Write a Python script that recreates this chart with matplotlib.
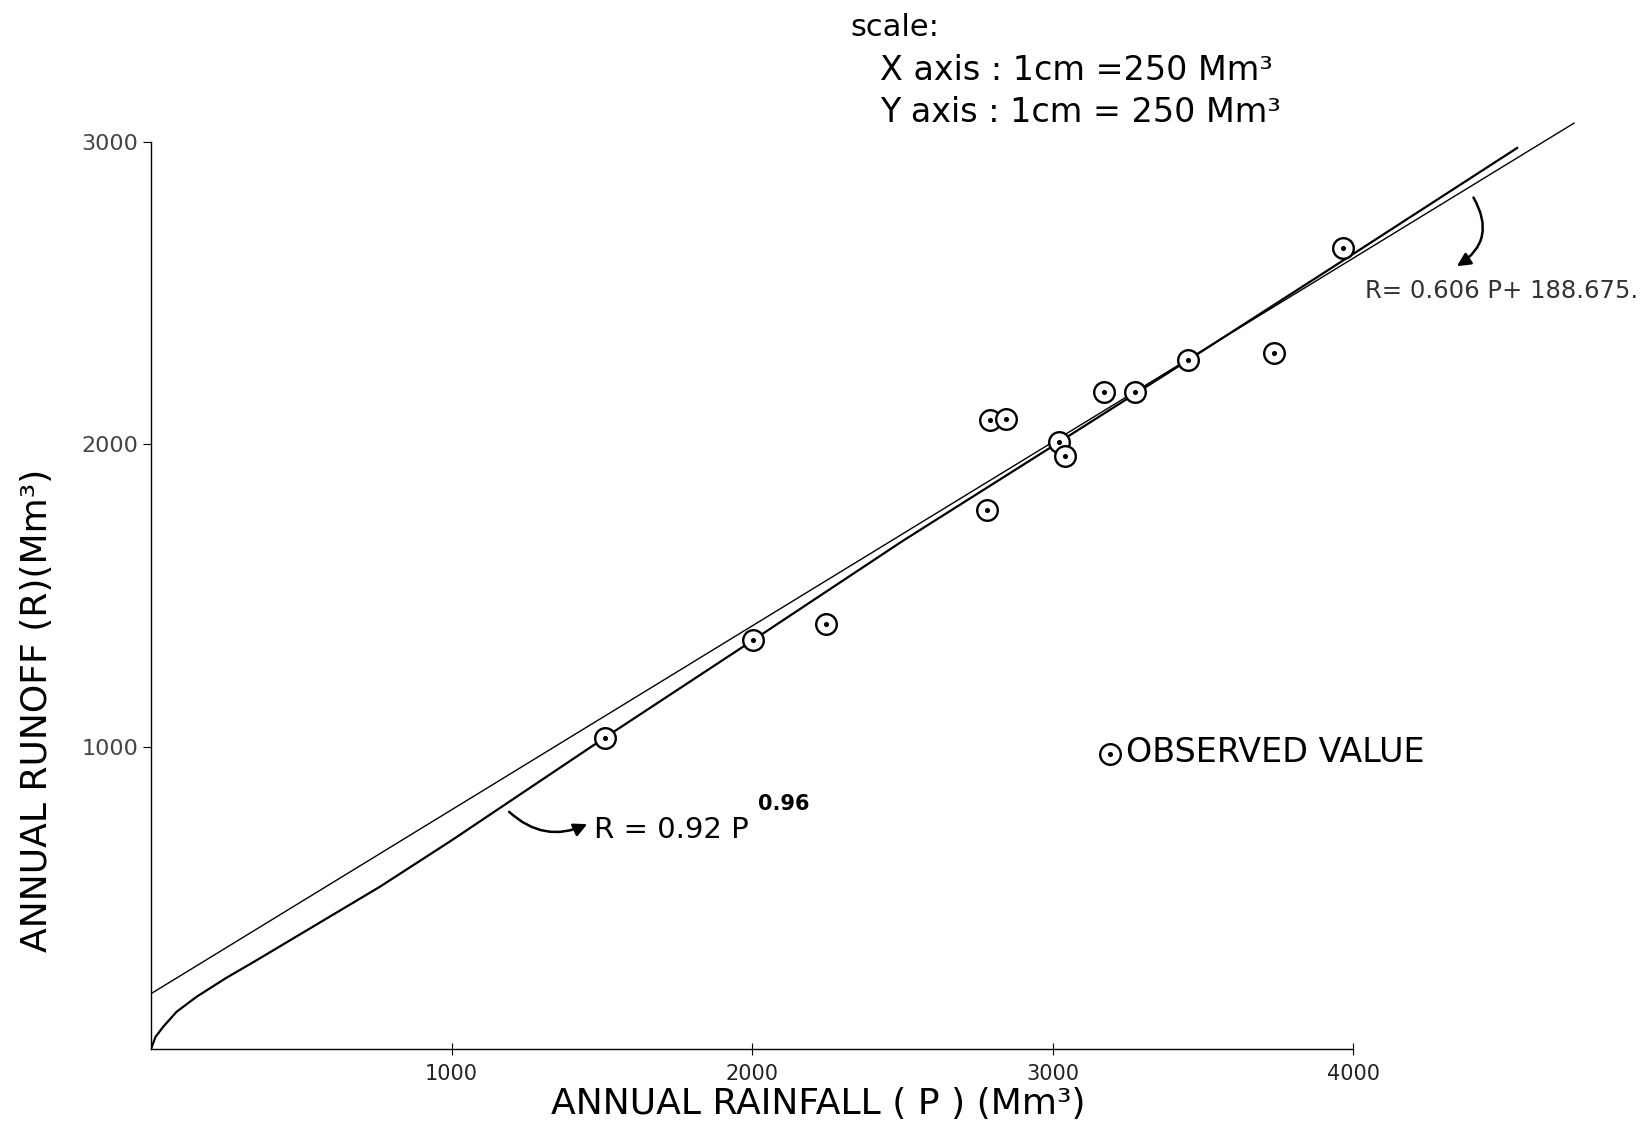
import numpy as np
import matplotlib.pyplot as plt

rain_obs = [1510, 2004, 2247, 2781, 2792, 2845, 3022, 3042, 3171, 3275, 3451, 3737, 3967]
runoff_obs = [1030, 1353, 1406, 1783, 2081, 2084, 2008, 1962, 2173, 2173, 2279, 2302, 2650]

# hand drawn power curve R = 0.92 P^0.96
rain_pow = [0, 15, 41, 85, 152, 250, 352, 762, 1000, 1510, 2004, 2500, 3022, 3451, 4000, 4546]
runoff_pow = [0, 40, 74, 123, 173, 235, 294, 537, 690, 1030, 1353, 1680, 2008, 2279, 2630, 2981]

# straight line R = 0.606 P + 188.675 (drawn end points)
rain_lin = [0, 4735]
runoff_lin = [183, 3063]

x_ticks = [1000, 2000, 3000, 4000]
y_ticks = [1000, 2000, 3000]

W, H = 1649, 1123
fig = plt.figure(figsize=(W / 100, H / 100), dpi=100)
ax = fig.add_axes([151 / W, 74 / H, 1472.5 / W, 937 / H])
ax.set_xlim(0, 4900)
ax.set_ylim(0, 3100)

ax.plot(rain_lin, runoff_lin, color='black', lw=1.0)
ax.plot(rain_pow, runoff_pow, color='black', lw=1.6)

circ = ax.scatter(rain_obs, runoff_obs, s=220, facecolors='white',
                  edgecolors='black', linewidths=1.7, zorder=3)
dot = ax.scatter(rain_obs, runoff_obs, s=7, color='black', zorder=4)

for side in ['top', 'right']:
    ax.spines[side].set_visible(False)
ax.spines['left'].set_bounds(0, 3000)
ax.spines['bottom'].set_bounds(0, 4000)
ax.spines['left'].set_linewidth(1.0)
ax.spines['bottom'].set_linewidth(1.0)

ax.set_xticks(x_ticks)
ax.set_yticks(y_ticks)
ax.set_xticklabels([str(v) for v in x_ticks])
ax.set_yticklabels([str(v) for v in y_ticks])
ax.tick_params(axis='x', direction='inout', length=8, pad=7,
               labelsize=15, labelcolor='#222222')
ax.tick_params(axis='y', direction='out', length=6, pad=3,
               labelsize=16, labelcolor='#444444')

# equation labels with curved arrows
ax.annotate('', xy=(1460, 748), xytext=(1185, 791),
            arrowprops=dict(arrowstyle='-|>', color='black', lw=1.8,
                            mutation_scale=20,
                            connectionstyle='arc3,rad=0.35'))
ax.text(1475, 724, 'R = 0.92 P', fontsize=21, va='center', ha='left')
ax.text(2020, 812, '0.96', fontsize=15, fontweight='bold', va='center', ha='left')

ax.annotate('', xy=(4338, 2585), xytext=(4396, 2825),
            arrowprops=dict(arrowstyle='-|>', color='black', lw=1.8,
                            mutation_scale=20,
                            connectionstyle='arc3,rad=-0.5'))
ax.text(4040, 2508, 'R= 0.606 P+ 188.675.', fontsize=17.5, va='center',
        ha='left', color='#333333')

ax.legend([(circ, dot)], ['OBSERVED VALUE'], loc='center left',
          bbox_to_anchor=(0.642, 0.316), frameon=False, fontsize=24,
          handlelength=0.8, handletextpad=0.1, borderpad=0, borderaxespad=0)

fig.text(850 / W, 1 - 28 / H, 'scale:', fontsize=22, va='center', ha='left')
fig.text(880 / W, 1 - 70 / H, 'X axis : 1cm =250 Mm³', fontsize=24,
         va='center', ha='left')
fig.text(880 / W, 1 - 113 / H, 'Y axis : 1cm = 250 Mm³', fontsize=24,
         va='center', ha='left')

fig.text(818 / W, 1 - 1104 / H, 'ANNUAL RAINFALL ( P ) (Mm³)', fontsize=26,
         va='center', ha='center')
fig.text(37 / W, 1 - 710 / H, 'ANNUAL RUNOFF (R)(Mm³)', fontsize=26,
         va='center', ha='center', rotation=90)

fig.savefig('out.png', dpi=100)
